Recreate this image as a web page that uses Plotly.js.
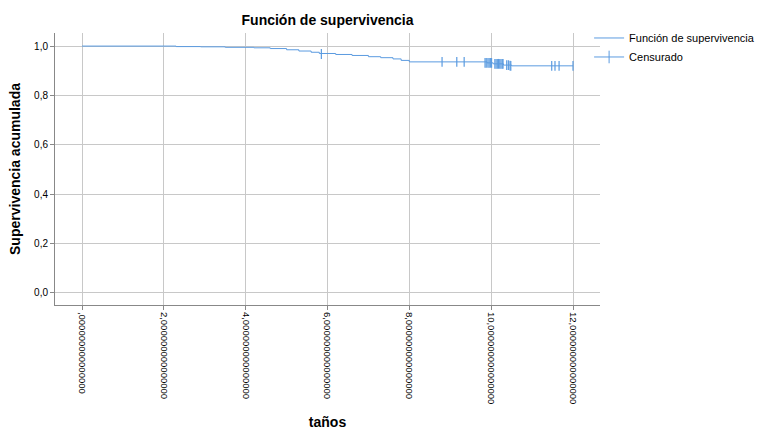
<!DOCTYPE html>
<html><head><meta charset="utf-8">
<script src="https://cdn.plot.ly/plotly-3.0.1.min.js"></script>
<style>html,body{margin:0;padding:0;background:#fff}#c{width:767px;height:430px}</style>
</head><body><div id="c"></div>
<script>
// Survival step function (years, cumulative survival)
const stepTimes = [0, 2.3, 2.9, 3.5, 4.2, 4.6, 5.0, 5.3, 5.6, 5.8, 6.2, 6.6, 7.0, 7.3, 7.6, 7.8, 8.0, 9.9, 10.05, 10.3, 10.5, 12.0];
const stepSurv  = [1.0, 0.998, 0.997, 0.995, 0.993, 0.99, 0.985, 0.98, 0.975, 0.97, 0.966, 0.962, 0.957, 0.953, 0.948, 0.942, 0.936, 0.932, 0.928, 0.923, 0.92, 0.92];
// Censored observations
const censTimes = [5.85, 8.80, 9.16, 9.34, 9.85, 9.88, 9.92, 9.95, 9.98, 10.01, 10.09, 10.12, 10.15, 10.18, 10.21, 10.24, 10.27, 10.29, 10.38, 10.42, 10.46, 10.48, 11.48, 11.56, 11.66, 12.0];
const censSurv  = [0.968, 0.936, 0.936, 0.936, 0.932, 0.932, 0.932, 0.932, 0.932, 0.932, 0.928, 0.928, 0.928, 0.928, 0.928, 0.928, 0.928, 0.928, 0.923, 0.923, 0.921, 0.92, 0.92, 0.92, 0.92, 0.92];
const tickVals = [0, 2, 4, 6, 8, 10, 12];
const tickText = [",000000000000000", "2,000000000000000", "4,000000000000000", "6,000000000000000", "8,000000000000000", "10,000000000000000", "12,000000000000000"];
const yTickVals = [0, 0.2, 0.4, 0.6, 0.8, 1.0];
const yTickText = ["0,0", "0,2", "0,4", "0,6", "0,8", "1,0"];

const col = "#5b9be0";
const traces = [
  {x: stepTimes, y: stepSurv, type: "scatter", mode: "lines", line: {shape: "hv", color: col, width: 1},
   name: "Función de supervivencia"},
  {x: censTimes, y: censSurv, type: "scatter", mode: "markers", showlegend: false,
   marker: {symbol: "line-ns-open", size: 7, color: col, line: {color: col, width: 1.2}}, name: "Censurado"},
  {x: [null], y: [null], type: "scatter", mode: "lines+markers", name: "Censurado",
   line: {color: col, width: 1}, marker: {symbol: "line-ns-open", size: 9, color: col, line: {color: col, width: 1}}}
];
const layout = {
  width: 767, height: 430,
  paper_bgcolor: "#fff", plot_bgcolor: "#fff",
  margin: {l: 55, r: 167, t: 33, b: 125, autoexpand: false},
  font: {family: "Liberation Sans, Arial, sans-serif", color: "#000", size: 11},
  title: {text: "<b>Función de supervivencia</b>", x: 0.427, xanchor: "center", y: 0.965, font: {size: 14}},
  xaxis: {range: [-0.66, 12.66], tickvals: tickVals, ticktext: tickText, tickangle: 90,
    showgrid: true, gridcolor: "#c8c8c8", gridwidth: 1, zeroline: false,
    showline: true, linecolor: "#888", ticks: "outside", ticklen: 4, tickcolor: "#888",
    tickfont: {size: 9.5},
    title: {text: "<b>taños</b>", font: {size: 14}, standoff: 14}},
  yaxis: {range: [-0.049, 1.053], tickvals: yTickVals, ticktext: yTickText,
    showgrid: true, gridcolor: "#c8c8c8", gridwidth: 1, zeroline: false,
    showline: true, linecolor: "#888", ticks: "outside", ticklen: 4, tickcolor: "#888",
    tickfont: {size: 10},
    title: {text: "<b>Supervivencia acumulada</b>", font: {size: 14}, standoff: 10}},
  legend: {x: 0.98, xanchor: "left", y: 1.035, yanchor: "top", font: {size: 11}, tracegroupgap: 0,
    itemwidth: 30, bgcolor: "rgba(0,0,0,0)"},
  showlegend: true
};
Plotly.newPlot("c", traces, layout, {displayModeBar: false, staticPlot: true});
</script></body></html>
